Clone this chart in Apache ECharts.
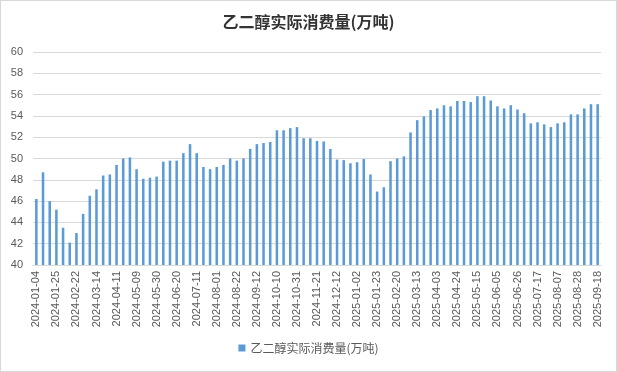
<!DOCTYPE html>
<html>
<head>
<meta charset="utf-8">
<script src="https://cdn.jsdelivr.net/npm/echarts@6/dist/echarts.min.js"></script>
<style>
html,body{margin:0;padding:0;background:#fff;}
#c{width:617px;height:372px;box-sizing:border-box;border:1px solid #d9d9d9;}
</style>
</head>
<body>
<div id="c"></div>
<script>
const titleText = '乙二醇实际消费量(万吨)';
const seriesName = '乙二醇实际消费量(万吨)';
const categories = [
 '2024-01-04','2024-01-11','2024-01-18','2024-01-25','2024-02-01','2024-02-08','2024-02-22','2024-02-29','2024-03-07','2024-03-14',
 '2024-03-21','2024-03-28','2024-04-11','2024-04-18','2024-04-25','2024-05-09','2024-05-16','2024-05-23','2024-05-30','2024-06-06',
 '2024-06-13','2024-06-20','2024-06-27','2024-07-04','2024-07-11','2024-07-18','2024-07-25','2024-08-01','2024-08-08','2024-08-15',
 '2024-08-22','2024-08-29','2024-09-05','2024-09-12','2024-09-19','2024-09-26','2024-10-10','2024-10-17','2024-10-24','2024-10-31',
 '2024-11-07','2024-11-14','2024-11-21','2024-11-28','2024-12-05','2024-12-12','2024-12-19','2024-12-26','2025-01-02','2025-01-09',
 '2025-01-16','2025-01-23','2025-02-06','2025-02-13','2025-02-20','2025-02-27','2025-03-06','2025-03-13','2025-03-20','2025-03-27',
 '2025-04-03','2025-04-10','2025-04-17','2025-04-24','2025-05-01','2025-05-08','2025-05-15','2025-05-22','2025-05-29','2025-06-05',
 '2025-06-12','2025-06-19','2025-06-26','2025-07-03','2025-07-10','2025-07-17','2025-07-24','2025-07-31','2025-08-07','2025-08-14',
 '2025-08-21','2025-08-28','2025-09-04','2025-09-11','2025-09-18'
];
const values = [
 46.2,48.7,46.0,45.2,43.5,42.1,43.0,44.8,46.5,47.1,
 48.4,48.5,49.4,50.0,50.1,49.0,48.1,48.2,48.3,49.7,
 49.8,49.8,50.5,51.35,50.5,49.2,49.0,49.2,49.4,50.0,
 49.8,50.0,50.9,51.35,51.45,51.55,52.65,52.65,52.85,52.95,
 51.9,51.9,51.65,51.6,50.9,49.9,49.85,49.55,49.65,49.95,
 48.5,46.9,47.3,49.75,50.0,50.2,52.45,53.6,53.95,54.55,
 54.7,55.0,54.9,55.4,55.4,55.3,55.85,55.85,55.45,54.9,
 54.7,55.0,54.6,54.25,53.3,53.4,53.2,52.95,53.3,53.4,
 54.15,54.15,54.7,55.1,55.1
];
const yMin = 40, yMax = 60, yStep = 2;

const chart = echarts.init(document.getElementById('c'));
chart.setOption({
  animation: false,
  backgroundColor: '#fff',
  title: {
    text: titleText,
    left: 'center',
    top: 8,
    textStyle: {fontFamily: 'Noto Sans CJK SC', fontSize: 16, fontWeight: 'bold', color: '#333333'}
  },
  legend: {
    bottom: 12,
    left: 'center',
    icon: 'rect',
    itemWidth: 7,
    itemHeight: 7,
    itemGap: 5,
    textStyle: {fontFamily: 'Noto Sans CJK SC', fontSize: 12, color: '#595959'},
    data: [seriesName]
  },
  grid: {left: 32, right: 15, top: 51, bottom: 106, containLabel: false},
  xAxis: {
    type: 'category',
    data: categories,
    axisLine: {lineStyle: {color: '#d9d9d9'}},
    axisTick: {show: false},
    axisLabel: {rotate: 90, interval: 2, fontSize: 11, color: '#595959', fontFamily: 'Liberation Sans', margin: 6}
  },
  yAxis: {
    type: 'value',
    min: yMin, max: yMax, interval: yStep,
    axisLine: {show: false},
    axisTick: {show: false},
    axisLabel: {fontSize: 11, color: '#595959', fontFamily: 'Liberation Sans', margin: 10},
    splitLine: {lineStyle: {color: '#d9d9d9'}}
  },
  series: [{
    name: seriesName,
    type: 'bar',
    data: values,
    barWidth: '38%',
    itemStyle: {color: '#5b9bd5'}
  }]
});
</script>
</body>
</html>
